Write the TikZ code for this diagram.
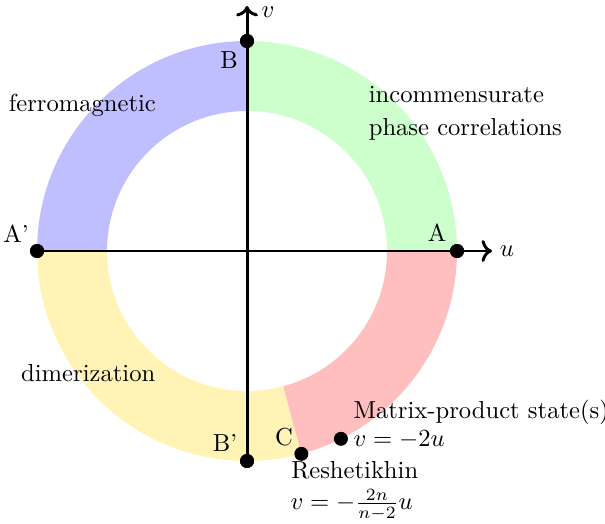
\documentclass[tikz,border=0pt]{standalone}
\usetikzlibrary{arrows.meta}
\definecolor{ringgreen}{RGB}{204,255,204}
\definecolor{ringblue}{RGB}{191,191,255}
\definecolor{ringred}{RGB}{255,191,191}
\definecolor{ringyellow}{RGB}{255,244,181}
\tikzset{
  axis/.style={very thick,->},
  dot/.style={circle,fill=black,inner sep=0pt,minimum size=0.2cm},
  lbl/.style={inner sep=0pt,anchor=base west},
  pt/.style={inner sep=0pt},
}
\newcommand{\ringseg}[3]{%
  \fill[#3] (#1:3) arc[start angle=#1,end angle=#2,radius=3] -- (#2:2) arc[start angle=#2,end angle=#1,radius=2] -- cycle;}
\begin{document}
\begin{tikzpicture}
\useasboundingbox (-3.529,-3.886) rectangle (5.114,3.586);
\ringseg{0}{90}{ringgreen}
\ringseg{90}{180}{ringblue}
\ringseg{180}{285}{ringyellow}
\ringseg{285}{360}{ringred}
\node[dot] (A) at (3,0) {};
\node[dot] (B) at (0,3) {};
\node[dot] (Ap) at (-3,0) {};
\node[dot] (Bp) at (0,-3) {};
\node[dot] (C) at (-75:3) {};
\node[dot] (M) at ({-atan(2)}:3) {};
\coordinate (uend) at (3.5,0);
\coordinate (vend) at (0,3.5);
\draw[axis] (Ap.center) -- (uend);
\draw[axis] (Bp.center) -- (vend);
\node[dot] at (A) {};
\node[dot] at (B) {};
\node[dot] at (Ap) {};
\node[dot] at (Bp) {};
\node[pt] (lu) at (3.714,0) {$u$};
\node[pt] (lv) at (0.30,3.41) {$v$};
\node[pt] (lA) at (2.714,0.257) {A};
\node[pt] (lB) at (-0.257,2.729) {B};
\node[pt] (lAp) at (-3.30,0.243) {A'};
\node[pt] (lBp) at (-0.314,-2.743) {B'};
\node[pt] (lC) at (0.529,-2.657) {C};
\node[lbl] (ferro) at (-3.41,1.99) {ferromagnetic};
\node[lbl] (inc1) at (1.733,2.119) {incommensurate};
\node[lbl] (inc2) at (1.733,1.657) {phase correlations};
\node[lbl] (dim) at (-3.233,-1.867) {dimerization};
\node[lbl] (mps1) at (1.515,-2.39) {Matrix-product state(s)};
\node[lbl] (mps2) at (1.515,-2.786) {$v=-2u$};
\node[lbl] (res1) at (0.625,-3.257) {Reshetikhin};
\node[lbl] (res2) at (0.615,-3.70) {$v=-\frac{2n}{n-2}u$};
\end{tikzpicture}
\end{document}
